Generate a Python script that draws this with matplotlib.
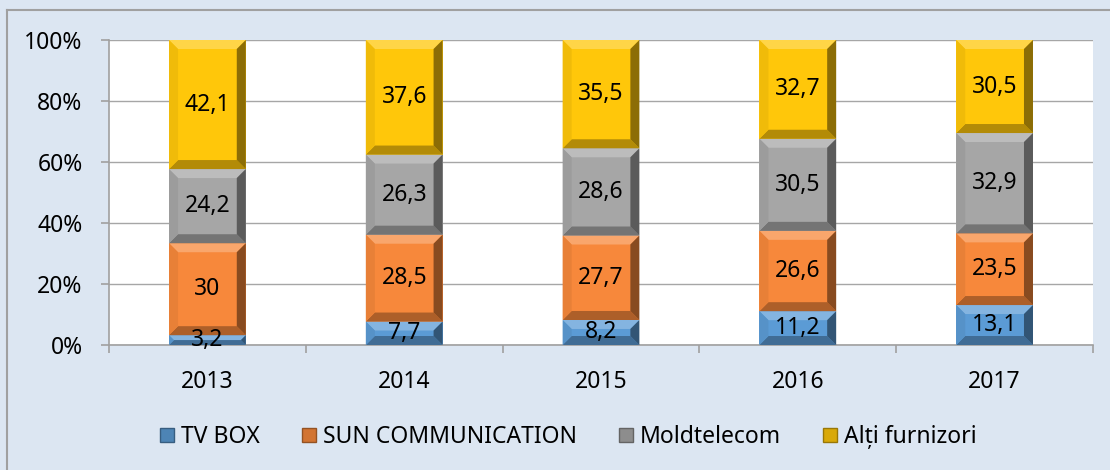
import numpy as np
import matplotlib.pyplot as plt
from matplotlib.patches import Polygon, Rectangle
from matplotlib.colors import to_rgb

plt.rcParams['font.family'] = ['Noto Sans', 'DejaVu Sans']

years = ['2013', '2014', '2015', '2016', '2017']
tv_box = [3.2, 7.7, 8.2, 11.2, 13.1]
sun_comm = [30, 28.5, 27.7, 26.6, 23.5]
moldtelecom = [24.2, 26.3, 28.6, 30.5, 32.9]
alti = [42.1, 37.6, 35.5, 32.7, 30.5]

series = [tv_box, sun_comm, moldtelecom, alti]
names = ['TV BOX', 'SUN COMMUNICATION', 'Moldtelecom', 'Alți furnizori']
colors = ['#5b9bd5', '#f7883b', '#a6a6a6', '#ffc70a']

fs = 16.5
bg = '#dce6f2'
fig = plt.figure(figsize=(11.1, 4.7), dpi=100, facecolor=bg)
# outer chart border (left and top visible)
fig.add_artist(plt.Line2D([7/1110, 7/1110], [0, 1 - 10/470], color='#a0a0a0', lw=1.5))
fig.add_artist(plt.Line2D([7/1110, 1], [1 - 10/470, 1 - 10/470], color='#a0a0a0', lw=1.5))

ax = fig.add_axes([109/1110, 1 - 345/470, (1093 - 109)/1110, (345 - 40)/470])
ax.set_facecolor('white')

x = np.arange(len(years))
data = np.array(series, dtype=float)
totals = data.sum(axis=0)
pct = data / totals * 100

ax.set_xlim(-0.5, len(years) - 0.5)
ax.set_ylim(0, 100)
ax.set_yticks(range(0, 101, 20))
ax.set_yticklabels([f'{v}%' for v in range(0, 101, 20)])
ax.grid(axis='y', color='#a6a6a6', lw=1)
ax.set_axisbelow(True)
for s in ['top', 'right']:
    ax.spines[s].set_visible(False)
for s in ['left', 'bottom']:
    ax.spines[s].set_color('#a0a0a0')
    ax.spines[s].set_linewidth(1.2)

ax.set_xticks(x)
ax.set_xticklabels(years)
ax.set_xticks(np.arange(-0.5, len(years)), minor=True)
ax.tick_params(axis='x', which='major', length=0, pad=18, labelsize=fs)
ax.tick_params(axis='x', which='minor', length=6, color='#a0a0a0', width=1.2)
ax.tick_params(axis='y', length=6, color='#a0a0a0', width=1.2, labelsize=fs, pad=13)

# pixel scales for bevels
fig.canvas.draw()
p0 = ax.transData.transform((0, 0))
p1 = ax.transData.transform((1, 1))
ux = p1[0] - p0[0]
uy = p1[1] - p0[1]

def shade(c, f):
    r = np.array(to_rgb(c))
    if f > 0:
        return tuple(r + (1 - r) * f)
    return tuple(r * (1 + f))

width = 0.39
bottom = np.zeros(len(years))
handles = []
for vals, raw, col, name in zip(pct, series, colors, names):
    bars = ax.bar(x, vals, width, bottom=bottom, color=col, edgecolor='none', zorder=2)
    handles.append(Rectangle((0, 0), 1, 1, facecolor=shade(col, -0.15), edgecolor=shade(col, -0.4), lw=1))
    for b, v, r in zip(bars, vals, raw):
        x0, y0 = b.get_x(), b.get_y()
        x1, y1 = x0 + b.get_width(), y0 + b.get_height()
        bpx = min(9, b.get_height() * uy / 2, b.get_width() * ux / 2)
        bx, by = bpx / ux, bpx / uy
        faces = [
            ([(x0, y1), (x1, y1), (x1 - bx, y1 - by), (x0 + bx, y1 - by)], 0.25),
            ([(x0, y0), (x1, y0), (x1 - bx, y0 + by), (x0 + bx, y0 + by)], -0.3),
            ([(x0, y0), (x0 + bx, y0 + by), (x0 + bx, y1 - by), (x0, y1)], -0.06),
            ([(x1, y0), (x1 - bx, y0 + by), (x1 - bx, y1 - by), (x1, y1)], -0.45),
        ]
        for pts, f in faces:
            ax.add_patch(Polygon(pts, closed=True, facecolor=shade(col, f), edgecolor='none', zorder=3))
        ax.text(b.get_x() + b.get_width() / 2, y0 + b.get_height() / 2,
                f'{r:g}'.replace('.', ','), ha='center', va='center',
                fontsize=fs, color='black', zorder=4)
    bottom += vals

fig.legend(handles, names, loc='center', bbox_to_anchor=(0.512, 1 - 437/470), ncol=4,
           frameon=False, fontsize=fs, handlelength=0.6, handleheight=0.6,
           handletextpad=0.3, columnspacing=1.85)

fig.savefig('out.png', dpi=100, facecolor=bg)
